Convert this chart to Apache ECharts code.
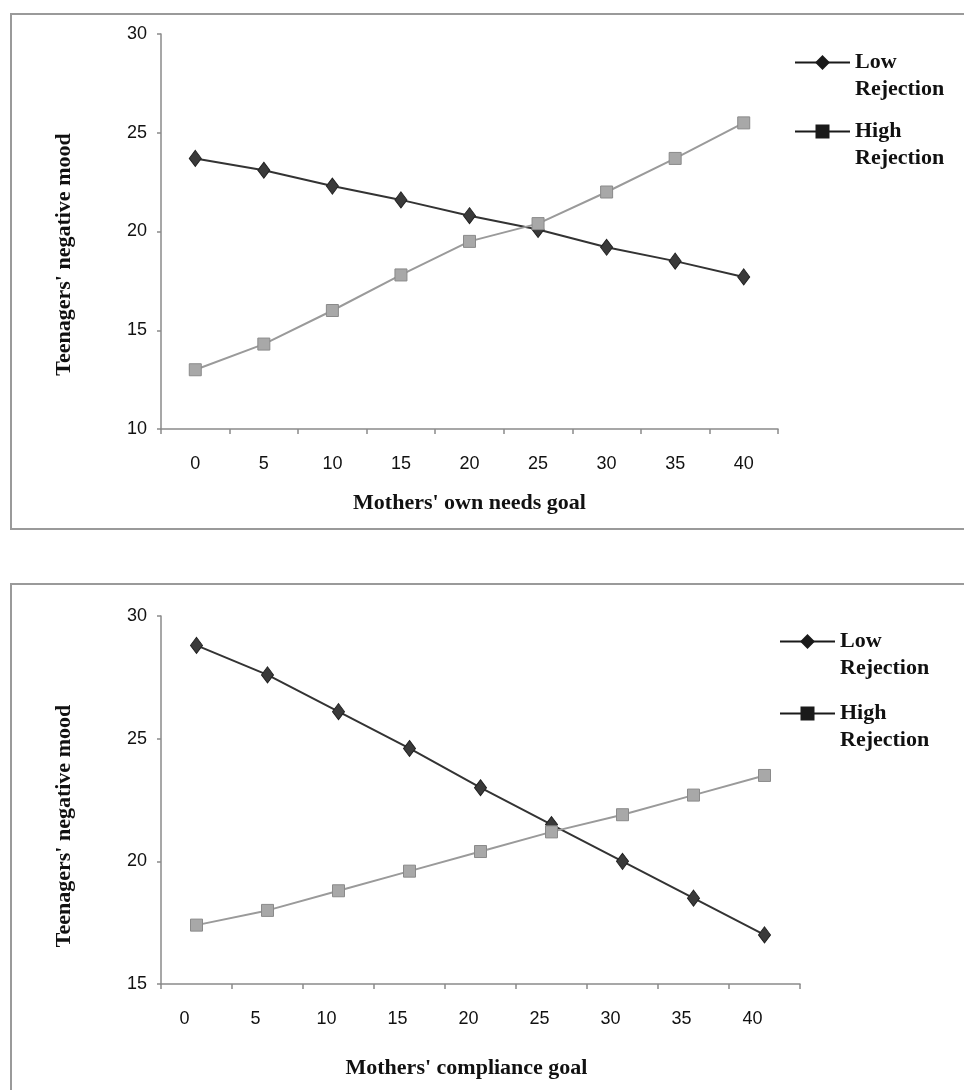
<!DOCTYPE html>
<html>
<head>
<meta charset="utf-8">
<script src="https://cdn.jsdelivr.net/npm/echarts@6/dist/echarts.min.js"></script>
<style>
html,body{margin:0;padding:0;background:#fff;}
#chart{width:964px;height:1090px;}
</style>
</head>
<body>
<div id="chart"></div>
<script>
// Categories (x axis tick labels)
var goalLevels = ['0', '5', '10', '15', '20', '25', '30', '35', '40'];

// Chart 1: Mothers' own needs goal
var ownNeedsLow = [23.7, 23.1, 22.3, 21.6, 20.8, 20.1, 19.2, 18.5, 17.7];
var ownNeedsHigh = [13.0, 14.3, 16.0, 17.8, 19.5, 20.4, 22.0, 23.7, 25.5];

// Chart 2: Mothers' compliance goal
var complianceLow = [28.8, 27.6, 26.1, 24.6, 23.0, 21.5, 20.0, 18.5, 17.0];
var complianceHigh = [17.4, 18.0, 18.8, 19.6, 20.4, 21.2, 21.9, 22.7, 23.5];

var seriesNames = ['Low Rejection', 'High Rejection'];
var yTitle = "Teenagers' negative mood";
var xTitle1 = "Mothers' own needs goal";
var xTitle2 = "Mothers' compliance goal";

var chart = echarts.init(document.getElementById('chart'), null, {renderer: 'canvas'});

var axisGray = '#8a8a8a';
var sansFont = '"Liberation Sans", Arial, sans-serif';
var serifFont = '"Liberation Serif", "Times New Roman", serif';

function xAxisCfg(gridIndex, title, nameGap, labelPad, namePad) {
  return {
    type: 'category', gridIndex: gridIndex, data: goalLevels, boundaryGap: true,
    axisLine: {lineStyle: {color: axisGray, width: 1.5}},
    axisTick: {show: true, length: 5, lineStyle: {color: axisGray, width: 1.5}},
    axisLabel: {color: '#111', fontSize: 18, fontFamily: sansFont, margin: 26, padding: labelPad},
    name: title, nameLocation: 'middle', nameGap: nameGap,
    nameTextStyle: {color: '#111', fontSize: 22, fontWeight: 'bold', fontFamily: serifFont, padding: namePad}
  };
}
function yAxisCfg(gridIndex, min, max, namePad) {
  return {
    type: 'value', gridIndex: gridIndex, min: min, max: max, interval: 5,
    axisLine: {show: true, lineStyle: {color: axisGray, width: 1.5}},
    axisTick: {show: true, length: 4, lineStyle: {color: axisGray, width: 1.5}},
    splitLine: {show: false},
    axisLabel: {color: '#111', fontSize: 18, fontFamily: sansFont, margin: 14},
    name: yTitle, nameLocation: 'middle', nameGap: 86, nameRotate: 90,
    nameTextStyle: {color: '#111', fontSize: 22, fontWeight: 'bold', fontFamily: serifFont, padding: namePad}
  };
}

function lowSeries(idx, data) {
  return {
    name: seriesNames[0], type: 'line', xAxisIndex: idx, yAxisIndex: idx, data: data,
    symbol: 'diamond', symbolSize: [12, 16], showAllSymbol: true,
    lineStyle: {color: '#333', width: 2},
    itemStyle: {color: '#3a3a3a', borderColor: '#222', borderWidth: 1},
    emphasis: {disabled: true}, animation: false, z: 2
  };
}
function highSeries(idx, data) {
  return {
    name: seriesNames[1], type: 'line', xAxisIndex: idx, yAxisIndex: idx, data: data,
    symbol: 'rect', symbolSize: 12, showAllSymbol: true,
    lineStyle: {color: '#9a9a9a', width: 2},
    itemStyle: {color: '#a8a8a8', borderColor: '#8a8a8a', borderWidth: 1},
    emphasis: {disabled: true}, animation: false, z: 3
  };
}

function legendCfg(name, left, top) {
  return {
    show: true, left: left, top: top, orient: 'vertical', padding: 0,
    itemWidth: 55, itemHeight: 15, itemGap: 0, selectedMode: false,
    data: [{
      name: name,
      itemStyle: {color: '#1a1a1a', borderColor: '#1a1a1a'},
      lineStyle: {color: '#1a1a1a', width: 2}
    }],
    formatter: function (n) { return '\u00a0\n' + n.replace(' ', '\n'); },
    textStyle: {color: '#111', fontSize: 22, fontWeight: 'bold', fontFamily: serifFont,
      lineHeight: 27}
  };
}

var option = {
  backgroundColor: '#fff',
  animation: false,
  graphic: [
    {type: 'rect', shape: {x: 11, y: 14, width: 1100, height: 515},
      style: {fill: 'none', stroke: '#9a9a9a', lineWidth: 2}, z: 0, silent: true},
    {type: 'rect', shape: {x: 11, y: 584, width: 1100, height: 700},
      style: {fill: 'none', stroke: '#9a9a9a', lineWidth: 2}, z: 0, silent: true}
  ],
  grid: [
    {left: 161, top: 34, right: 186, bottom: 661, containLabel: false},
    {left: 161, top: 616, right: 164, bottom: 106, containLabel: false}
  ],
  xAxis: [
    xAxisCfg(0, xTitle1, 63, [0, 0, 0, 0], [0, 0, 0, 0]),
    xAxisCfg(1, xTitle2, 73, [0, 24, 0, 0], [0, 28, 0, 0])
  ],
  yAxis: [
    yAxisCfg(0, 10, 30, [0, 46, 0, 0]),
    yAxisCfg(1, 15, 30, [0, 52, 0, 0])
  ],
  legend: [
    legendCfg(seriesNames[0], 794, 22),
    legendCfg(seriesNames[1], 794, 91),
    legendCfg(seriesNames[0], 779, 601),
    legendCfg(seriesNames[1], 779, 673)
  ],
  series: [
    lowSeries(0, ownNeedsLow),
    highSeries(0, ownNeedsHigh),
    lowSeries(1, complianceLow),
    highSeries(1, complianceHigh)
  ]
};
chart.setOption(option);
</script>
</body>
</html>
